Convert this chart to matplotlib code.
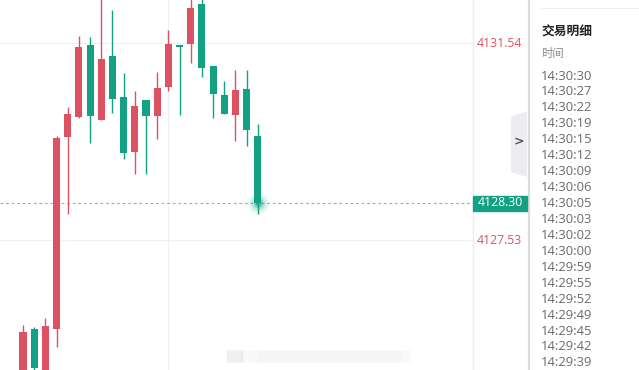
import matplotlib
matplotlib.use("Agg")
import matplotlib.pyplot as plt
import matplotlib.patches as mpatches
import matplotlib.transforms as mtransforms

plt.rcParams['font.family'] = ['Open Sans', 'Noto Sans CJK SC', 'DejaVu Sans']

# candle data (open, high, low, close), red = up, green = down
opens = [4124.59, 4125.73, 4124.90, 4125.73, 4129.64, 4130.04, 4131.51, 4129.98,
         4131.29, 4130.45, 4129.33, 4130.39, 4130.06, 4130.65, 4131.51, 4131.53,
         4132.34, 4131.08, 4130.49, 4130.08, 4130.61, 4129.66]
highs = [4125.81, 4125.77, 4125.95, 4129.66, 4130.25, 4131.69, 4131.67, 4132.63,
         4132.22, 4130.94, 4130.57, 4130.39, 4130.96, 4131.81, 4131.51, 4132.52,
         4132.52, 4131.08, 4130.78, 4131.00, 4131.00, 4129.90]
lows = [4124.45, 4124.79, 4124.80, 4125.36, 4128.07, 4130.02, 4129.51, 4129.98,
        4130.13, 4129.19, 4128.88, 4128.88, 4129.60, 4130.57, 4130.08, 4131.14,
        4130.86, 4130.02, 4130.10, 4129.56, 4129.45, 4128.07]
closes = [4125.67, 4124.94, 4125.79, 4129.62, 4130.10, 4131.47, 4130.06, 4131.22,
          4130.41, 4129.31, 4130.27, 4130.06, 4130.63, 4131.53, 4131.47, 4132.26,
          4131.04, 4130.51, 4130.10, 4130.59, 4129.78, 4128.30]

grid_levels = [4131.54, 4127.53]
last_price = 4128.30

panel_title = "交易明细"
panel_header = "时间"
trade_times = ["14:30:30", "14:30:27", "14:30:22", "14:30:19", "14:30:15", "14:30:12",
               "14:30:09", "14:30:06", "14:30:05", "14:30:03", "14:30:02", "14:30:00",
               "14:29:59", "14:29:55", "14:29:52", "14:29:49", "14:29:45", "14:29:42",
               "14:29:39"]

RED = '#dc5262'
GREEN = '#13a184'

W, H = 639, 370
fig = plt.figure(figsize=(W / 100, H / 100), dpi=100)
fig.patch.set_facecolor('white')

# main candle axes (pixels 0..473)
ax = fig.add_axes([0, 0, 473 / W, 1])
ax.set_xlim(-2.057, 40.25)
ax.set_ylim(4124.894, 4132.425)
for s in ['top', 'left', 'bottom']:
    ax.spines[s].set_visible(False)
ax.spines['right'].set_color('#ececec')
ax.spines['right'].set_linewidth(1.0)
ax.set_xticks([])
ax.set_yticks([])

# grid
for g in grid_levels:
    ax.axhline(g, color='#f0f0f0', lw=0.9, zorder=0)
ax.axvline(13, color='#f0f0f0', lw=0.9, zorder=0)

# candles
for i in range(len(opens)):
    o, h, l, c = opens[i], highs[i], lows[i], closes[i]
    col = RED if c >= o else GREEN
    ax.vlines(i, l, h, color=col, lw=1.0, zorder=2)
    body = max(abs(c - o), 0.035)
    ax.bar(i, body, bottom=min(o, c), width=0.63, color=col, zorder=3)

# last price dashed line
ax.axhline(last_price, color='#6cc7b5', lw=0.8, ls=(0, (2.5, 2.5)), zorder=1)

# glow at the last point
last_i = len(closes) - 1
for s, a in [(260, 0.05), (170, 0.09), (100, 0.15), (50, 0.28), (20, 0.5)]:
    ax.scatter([last_i], [last_price], s=s, color=GREEN, alpha=a, lw=0, zorder=4)

# price labels
tr = mtransforms.blended_transform_factory(fig.transFigure, ax.transData)
for g in grid_levels:
    fig.text(522 / W, g, f"{g:.2f}", transform=tr, ha='right', va='center',
             color=RED, fontsize=8.8)
fig.patches.append(mpatches.Rectangle((473 / W, 1 - 211 / H), 54 / W, 15 / H,
                                      transform=fig.transFigure, color=GREEN, zorder=5))
fig.text(500 / W, last_price, f"{last_price:.2f}", transform=tr, ha='center',
         va='center', color='white', fontsize=8.8, zorder=6)

# faint blurred watermark near the bottom
for x0, x1, a in [(228, 242, 0.14), (242, 410, 0.05), (260, 400, 0.04)]:
    fig.patches.append(mpatches.FancyBboxPatch((x0 / W, 1 - 362 / H), (x1 - x0) / W, 11 / H,
                                               boxstyle="round,pad=0.002",
                                               transform=fig.transFigure, color='#9a9a9a',
                                               alpha=a, lw=0))

# collapse tab
tab = mpatches.Polygon([(511 / W, 1 - 117 / H), (527 / W, 1 - 111 / H),
                        (527 / W, 1 - 177 / H), (511 / W, 1 - 172 / H)],
                       closed=True, transform=fig.transFigure, color='#ececf1', lw=0)
fig.patches.append(tab)
fig.text(518.5 / W, 1 - 142 / H, ">", ha='center', va='center', color='#555555',
         fontsize=9, fontweight='bold', family='DejaVu Sans')

# right panel border
fig.add_artist(plt.Line2D([528.5 / W, 528.5 / W], [0, 1], transform=fig.transFigure,
                          color='#dcdcdc', lw=1.6))
fig.add_artist(plt.Line2D([541 / W, 1], [1 - 8 / H, 1 - 8 / H], transform=fig.transFigure,
                          color='#efefef', lw=0.8))

# right panel text
fig.text(541 / W, 1 - 32 / H, panel_title, ha='left', va='center', color='#222222',
         fontsize=9.2, fontweight='bold', family=['Noto Sans CJK SC'])
fig.text(541 / W, 1 - 53 / H, panel_header, ha='left', va='center', color='#8a8a8a',
         fontsize=8.2, family=['Noto Sans CJK SC'])
for k, t in enumerate(trade_times):
    y = 76 + 15.94 * k
    fig.text(541 / W, 1 - y / H, t, ha='left', va='center', color='#6a6a6a', fontsize=9.4)

fig.savefig('out.png', dpi=100)
